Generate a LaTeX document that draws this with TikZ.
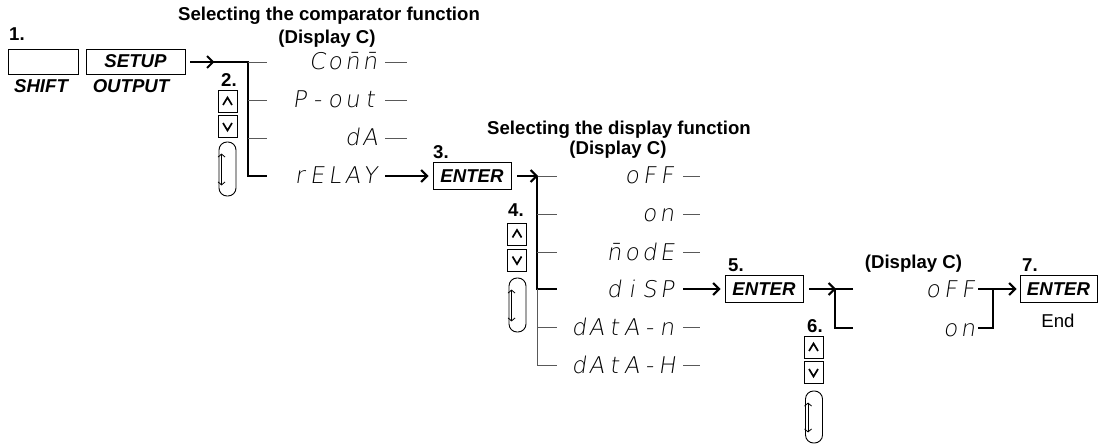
\documentclass[tikz,border=0pt]{standalone}
\usepackage{fontspec}
\setmainfont{Liberation Sans}
\IfFontExistsTF{DejaVu Sans ExtraLight}
  {\newfontfamily\segfont{DejaVu Sans ExtraLight}[FakeSlant=0.15]}
  {\newfontfamily\segfont{DejaVu Sans}[FakeSlant=0.15]}
\usetikzlibrary{arrows.meta,calc}
\newcommand\segm{\={n}}
\makeatletter
\def\segtxt#1{\seg@loop#1\@nil}
\def\seg@loop#1{\ifx\@nil#1\else\makebox[17.6pt][c]{#1}\expandafter\seg@loop\fi}
\makeatother
\tikzset{
  lbl/.style={font=\bfseries\fontsize{18.6}{21}\selectfont, inner sep=0pt},
  lblit/.style={font=\bfseries\itshape\fontsize{18.6}{21}\selectfont, inner sep=0pt},
  plain/.style={font=\fontsize{18.6}{21}\selectfont, inner sep=0pt},
  keybox/.style={draw, line width=0.9pt, fill=white, inner sep=0pt,
    font=\bfseries\itshape\fontsize{18.6}{21}\selectfont},
  enterbox/.style={keybox, minimum width=78pt, minimum height=27pt},
  seg/.style={font=\segfont\fontsize{23}{24}\selectfont, inner sep=0pt, anchor=base east},
  thinl/.style={line width=0.9pt, black!65},
  thickl/.style={line width=2.6pt},
  arr/.style={line width=2pt, -{Straight Barb[length=6pt,width=12pt,line width=2pt]}},
  updown/.style={draw, line width=0.9pt, minimum width=19pt, minimum height=22pt, inner sep=0pt},
  upkey/.style={updown, path picture={\draw[line width=1.7pt]
      ([xshift=-4.5pt,yshift=-3.5pt]path picture bounding box.center) --
      ([yshift=4pt]path picture bounding box.center) --
      ([xshift=4.5pt,yshift=-3.5pt]path picture bounding box.center);}},
  downkey/.style={updown, path picture={\draw[line width=1.7pt]
      ([xshift=-4.5pt,yshift=3.5pt]path picture bounding box.center) --
      ([yshift=-4pt]path picture bounding box.center) --
      ([xshift=4.5pt,yshift=3.5pt]path picture bounding box.center);}},
  knob/.style={draw, line width=0.9pt, rounded corners=8pt, minimum width=17pt,
    minimum height=54pt, inner sep=0pt},
  knobarr/.style={line width=0.8pt,
    {Straight Barb[length=3pt,width=7pt]}-{Straight Barb[length=3pt,width=7pt]}},
}
\begin{document}
\begin{tikzpicture}[x=1pt,y=-1pt]
\useasboundingbox (0,0) rectangle (1099,446);

% ---------- step 1
\node[lbl,anchor=base west] (n1) at (9,41) {1.};
\node[keybox,minimum width=70pt,minimum height=25pt] (shift) at (43,61.5) {};
\node[keybox,minimum width=99pt,minimum height=25pt] (setup) at (135.5,61.5) {SETUP};
\node[lblit,anchor=base] (shiftl) at (41,93) {SHIFT};
\node[lblit,anchor=base] (outl) at (131,93) {OUTPUT};
\node[lbl,anchor=base] (t1) at (329,21) {Selecting the comparator function};
\node[lbl,anchor=base] (d1) at (327,44) {(Display C)};

% ---------- step 2
\coordinate (v2top) at (248,62);
\coordinate (v2bot) at (248,176);
\coordinate (s1out) at ($(setup.east)+(5,0.5)$);
\coordinate (s1tip) at ($(setup.east)+(29,0.5)$);
\draw[thickl] ($(setup.east)+(24,0.5)$) -- (v2top) -- (v2bot) -- ++(19,0);
\draw[arr] (s1out) -- (s1tip);
\foreach \y in {62,100,138} \draw[thinl] (248,\y) -- (267,\y);
\node[seg] (comm) at (379,70) {\segtxt{Co\segm\segm}};
\node[seg] (pout) at (379,108) {\segtxt{P-out}};
\node[seg] (da) at (379,146) {\segtxt{dA}};
\node[seg] (relay) at (379,184) {\segtxt{rELAY}};
\foreach \y in {62,100,138} \draw[thinl] (385,\y) -- (407,\y);
\node[lbl,anchor=base west] (n2) at (221,87) {2.};
\node[upkey] (up2) at (227.5,101.5) {};
\node[downkey] (dn2) at (227.5,126.5) {};
\node[knob] (k2) at (227.5,169) {};
\draw[knobarr] ([xshift=3pt,yshift=-12pt]k2.north west) -- ([xshift=3pt,yshift=11pt]k2.south west);

% ---------- step 3
\node[enterbox] (enter3) at (472,176) {ENTER};
\node[lbl,anchor=base west] (n3) at (433,159) {3.};
\draw[arr] (385,176) -- ($(enter3.west)+(-4,0)$);
\node[lbl,anchor=base] (t2) at (619,135) {Selecting the display function};
\node[lbl,anchor=base] (d2) at (618,155) {(Display C)};

% ---------- step 4
\coordinate (v4top) at (537,176);
\coordinate (v4mid) at (537,289);
\coordinate (v4bot) at (537,365);
\draw[thickl] (v4top) -- (v4mid) -- ++(20,0);
\draw[thinl] (v4mid) -- (v4bot) -- ++(20,0);
\foreach \y in {176,214,252,327} \draw[thinl] (537,\y) -- (557,\y);
\draw[arr] ($(enter3.east)+(6,0)$) -- ($(v4top)+(1,0)$);
\node[seg] (off1) at (676,184) {\segtxt{oFF}};
\node[seg] (on1) at (676,222) {\segtxt{on}};
\node[seg] (mode) at (676,260) {\segtxt{\segm odE}};
\node[seg] (disp) at (676,297) {\segtxt{diSP}};
\node[seg] (datan) at (676,335) {\segtxt{dAtA-n}};
\node[seg] (datah) at (676,373) {\segtxt{dAtA-H}};
\foreach \y in {176,214,252,327,365} \draw[thinl] (683,\y) -- (700,\y);
\node[lbl,anchor=base west] (n4) at (508,217) {4.};
\node[upkey] (up4) at (517,234) {};
\node[downkey] (dn4) at (517,260) {};
\node[knob] (k4) at (517.5,305) {};
\draw[knobarr] ([xshift=3pt,yshift=-12pt]k4.north west) -- ([xshift=3pt,yshift=11pt]k4.south west);

% ---------- step 5
\node[enterbox] (enter5) at (764,289) {ENTER};
\node[lbl,anchor=base west] (n5) at (728,271) {5.};
\draw[arr] (683,289) -- ($(enter5.west)+(-4,0)$);
\coordinate (b5top) at (835,289);
\coordinate (b5bot) at (835,328);
\draw[thickl] ($(b5top)+(18,0)$) -- (b5top) -- (b5bot) -- ++(18,0);
\draw[arr] ($(enter5.east)+(6,0)$) -- ($(b5top)+(1,0)$);

% ---------- step 6
\node[lbl,anchor=base west] (n6) at (807,332) {6.};
\node[upkey] (up6) at (813.5,347.5) {};
\node[downkey] (dn6) at (813.5,372.5) {};
\node[knob,minimum height=52pt] (k6) at (814,417) {};
\draw[knobarr] ([xshift=3pt,yshift=-12pt]k6.north west) -- ([xshift=3pt,yshift=11pt]k6.south west);
\node[lbl,anchor=base] (d3) at (913.5,269) {(Display C)};
\node[seg] (off2) at (977,297) {\segtxt{oFF}};
\node[seg] (on2) at (977,336) {\segtxt{on}};

% ---------- step 7
\node[enterbox,minimum width=77pt] (enter7) at (1058.5,289) {ENTER};
\node[lbl,anchor=base west] (n7) at (1022,271) {7.};
\node[plain,anchor=base] (endl) at (1058,327) {End};
\coordinate (j7) at (993,289);
\draw[thickl] (978,328) -- (993,328) -- (j7);
\draw[arr] (978,289) -- ($(enter7.west)+(-3,0)$);
\end{tikzpicture}
\end{document}
